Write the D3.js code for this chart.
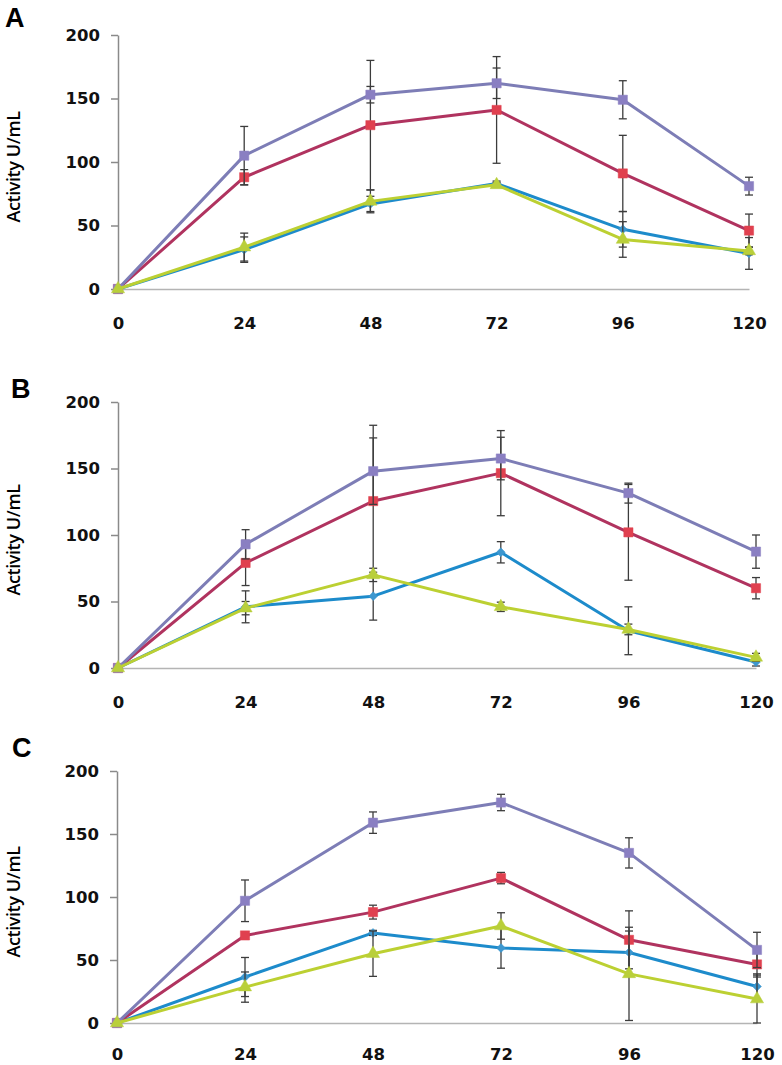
<!DOCTYPE html>
<html>
<head>
<meta charset="utf-8">
<script src="https://cdn.jsdelivr.net/npm/d3@7"></script>
<style>
  body { margin: 0; background: #fff; }
  svg { display: block; }
</style>
</head>
<body>
<svg id="chart" width="782" height="1065"></svg>
<script>
// time points (h) and y ticks shared by all panels
const hours = [0, 24, 48, 72, 96, 120];
const yTicks = [0, 50, 100, 150, 200];
const panelNames = ["A", "B", "C"];
const yTitle = "Activity U/mL";

// panel A
const blueA = [0, 31, 67, 83, 47, 28];
const blueErrA = [0, 10, 6, 2, 14, 12.5];
const redA = [0, 88, 129, 141, 91, 46];
const redErrA = [0, 6, 51, 42, 30, 13];
const purpleA = [0, 105, 153, 162, 149, 81];
const purpleErrA = [0, 23, 6.5, 12, 15, 7];
const greenA = [0, 33, 69, 82, 39, 30];
const greenErrA = [0, 11, 9, 2, 14, 3];

// panel B
const blueB = [0, 46, 54, 87, 28, 4.5];
const blueErrB = [0, 12, 18, 8, 18, 3];
const redB = [0, 79, 125.5, 146.5, 102, 60];
const redErrB = [0, 17, 57, 32, 36, 8];
const purpleB = [0, 93, 148, 157.5, 131.5, 87.5];
const purpleErrB = [0, 11, 25, 16, 7.5, 12.5];
const greenB = [0, 45, 70, 46, 29, 8];
const greenErrB = [0, 5, 5, 3.5, 4, 3];

// panel C
const blueC = [0, 36.5, 71.5, 59.5, 56, 29];
const blueErrC = [0, 15.5, 2, 16, 17, 10];
const redC = [0, 69.5, 88, 115, 66, 46.5];
const redErrC = [0, 3, 5.5, 4.5, 23, 10];
const purpleC = [0, 97, 159, 175, 135, 58];
const purpleErrC = [0, 16.5, 8.5, 6.5, 12, 14];
const greenC = [0, 28.5, 55, 77, 39, 19];
const greenErrC = [0, 12, 18, 10.5, 37, 19];

const seriesStyle = [
  { key: "blue", line: "#1d8bcb", fill: "#3d97cf", shape: d3.symbolDiamond2, size: 50 },
  { key: "red", line: "#b0335f", fill: "#e0404f", shape: d3.symbolSquare, size: 85 },
  { key: "purple", line: "#7d7db6", fill: "#8a7fc2", shape: d3.symbolSquare, size: 85 },
  { key: "green", line: "#bcd032", fill: "#b9cf3a", shape: d3.symbolTriangle, size: 75 }
];

const panelData = [
  { blue: [blueA, blueErrA], red: [redA, redErrA], purple: [purpleA, purpleErrA], green: [greenA, greenErrA] },
  { blue: [blueB, blueErrB], red: [redB, redErrB], purple: [purpleB, purpleErrB], green: [greenB, greenErrB] },
  { blue: [blueC, blueErrC], red: [redC, redErrC], purple: [purpleC, purpleErrC], green: [greenC, greenErrC] }
];

// layout of each panel (plot area in page pixels)
const boxes = [
  { left: 118, right: 749, top: 35, bottom: 289, letterX: 5, letterY: 27, pad: 28 },
  { left: 118, right: 756, top: 402, bottom: 668, letterX: 11, letterY: 398, pad: 28 },
  { left: 117, right: 757, top: 771, bottom: 1023, letterX: 12, letterY: 757, pad: 25 }
];

const svg = d3.select("#chart");
const tickFont = "'DejaVu Sans', Verdana, sans-serif";

boxes.forEach((b, i) => {
  const data = panelData[i];
  const x = d3.scaleLinear().domain([0, 120]).range([b.left, b.right]);
  const y = d3.scaleLinear().domain([0, 200]).range([b.bottom, b.top]);
  const g = svg.append("g");

  // panel letter
  g.append("text")
    .attr("x", b.letterX)
    .attr("y", b.letterY)
    .attr("font-family", "'Liberation Sans', Arial, sans-serif")
    .attr("font-weight", "bold")
    .attr("font-size", 27)
    .text(panelNames[i]);

  // y axis title
  g.append("text")
    .attr("transform", `translate(20,${(b.top + b.bottom) / 2 + 5}) rotate(-90)`)
    .attr("text-anchor", "middle")
    .attr("font-family", "'Open Sans', sans-serif")
    .attr("font-weight", 600)
    .attr("font-size", 18)
    .attr("letter-spacing", -0.4)
    .text(yTitle);

  // x axis
  const xAxis = g.append("g")
    .attr("transform", `translate(0,${b.bottom})`)
    .call(d3.axisBottom(x).tickValues(hours).tickSize(0).tickPadding(b.pad));
  xAxis.select(".domain").attr("stroke", "#b4b4b4").attr("stroke-width", 1.5);
  xAxis.selectAll("text")
    .attr("font-family", tickFont)
    .attr("font-weight", "bold")
    .attr("font-size", 16.5)
    .attr("fill", "#111");

  // y axis
  const yAxis = g.append("g")
    .attr("transform", `translate(${b.left},0)`)
    .call(d3.axisLeft(y).tickValues(yTicks).tickSize(7).tickSizeOuter(0).tickPadding(11));
  yAxis.select(".domain").attr("stroke", "#8a8a8a").attr("stroke-width", 1.5);
  yAxis.selectAll(".tick line").attr("stroke", "#8a8a8a").attr("stroke-width", 1.5);
  yAxis.selectAll("text")
    .attr("font-family", tickFont)
    .attr("font-weight", "bold")
    .attr("font-size", 16.5)
    .attr("fill", "#111");

  const line = d3.line().x((d) => x(d.h)).y((d) => y(d.v));

  seriesStyle.forEach((s) => {
    const [vals, errs] = data[s.key];
    const pts = hours.map((h, j) => ({ h, v: vals[j], e: errs[j] }));
    const sg = g.append("g");

    sg.append("path")
      .datum(pts)
      .attr("fill", "none")
      .attr("stroke", s.line)
      .attr("stroke-width", 3)
      .attr("stroke-linejoin", "round")
      .attr("d", line);

    // error bars
    const eb = sg.selectAll(".err")
      .data(pts.filter((d) => d.e > 0))
      .enter()
      .append("g")
      .attr("stroke", "#3c3c3c")
      .attr("stroke-width", 1.3);
    eb.append("line")
      .attr("x1", (d) => x(d.h)).attr("x2", (d) => x(d.h))
      .attr("y1", (d) => y(d.v + d.e)).attr("y2", (d) => y(Math.max(0, d.v - d.e)));
    eb.append("line")
      .attr("x1", (d) => x(d.h) - 4).attr("x2", (d) => x(d.h) + 4)
      .attr("y1", (d) => y(d.v + d.e)).attr("y2", (d) => y(d.v + d.e));
    eb.append("line")
      .attr("x1", (d) => x(d.h) - 4).attr("x2", (d) => x(d.h) + 4)
      .attr("y1", (d) => y(Math.max(0, d.v - d.e))).attr("y2", (d) => y(Math.max(0, d.v - d.e)));

    sg.selectAll(".mark")
      .data(pts)
      .enter()
      .append("path")
      .attr("transform", (d) => `translate(${x(d.h)},${y(d.v)})`)
      .attr("d", d3.symbol().type(s.shape).size(s.size))
      .attr("fill", s.fill)
      .attr("stroke", s.fill)
      .attr("stroke-width", 0.5);
  });
});
</script>
</body>
</html>
